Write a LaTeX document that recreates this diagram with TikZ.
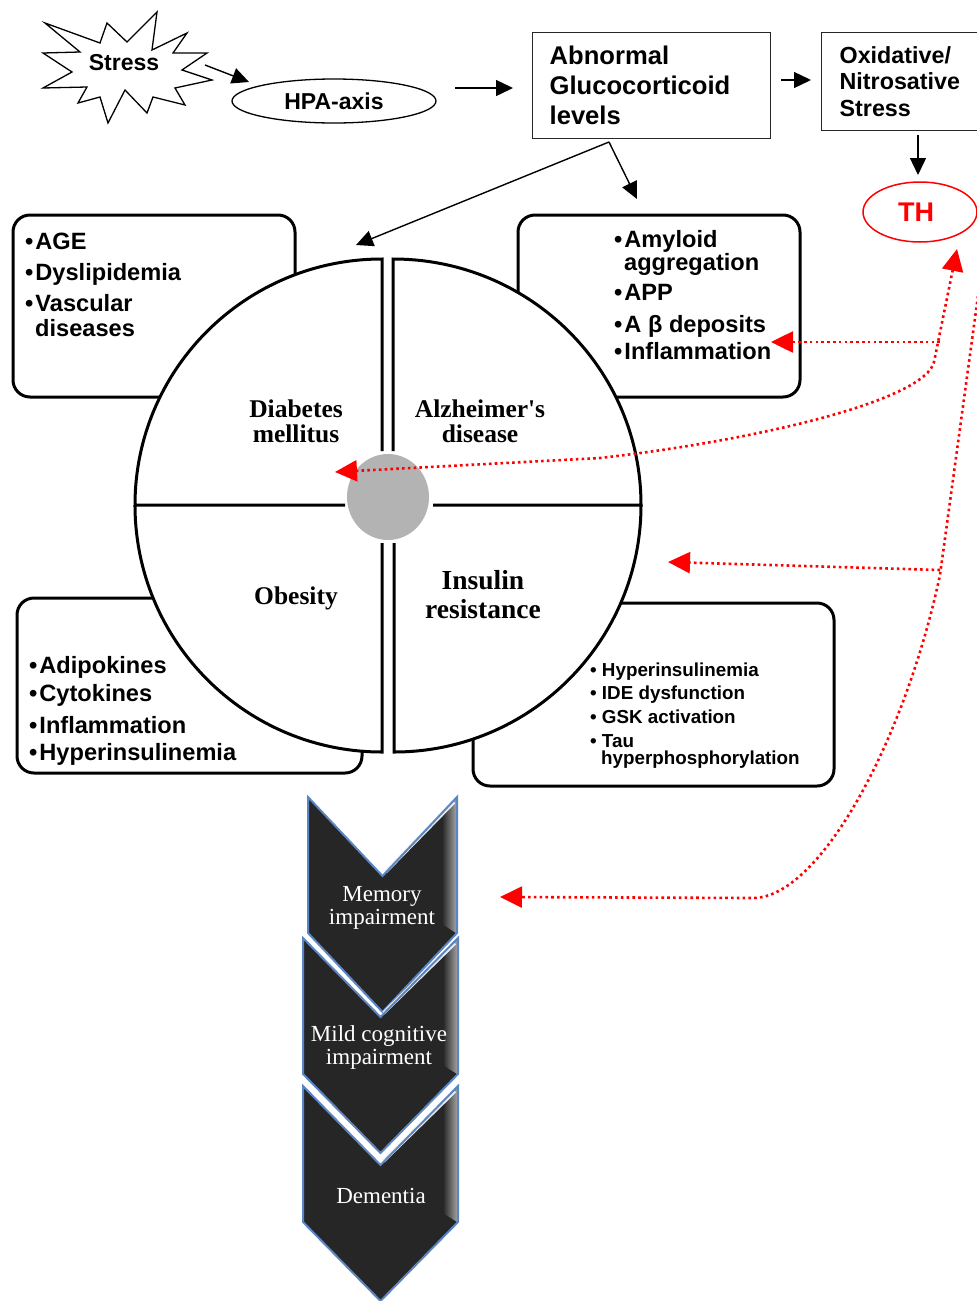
\documentclass[tikz,border=0pt]{standalone}
\usepackage{fontspec}
\setmainfont{Liberation Sans}
\newfontfamily\serifbf{Liberation Serif}
\usetikzlibrary{arrows.meta,shapes.geometric}
\definecolor{chevfill}{HTML}{262626}
\definecolor{chevblue}{HTML}{5B86C3}
\definecolor{qgray}{HTML}{B3B3B3}
\newcommand{\bu}{•\hspace{2pt}}
\newcommand{\chevshape}[3]{%
  \fill[chevfill] (#1,#3) -- ({(#1+#2)/2},#3+79) -- (#2,#3) -- (#2,#3+136) -- ({(#1+#2)/2},#3+215) -- (#1,#3+136) -- cycle;
  \shade[left color=chevfill, right color=gray!75] (#2-15,#3+17) -- (#2-1,#3+2) -- (#2-1,#3+136) -- (#2-15,#3+127) -- cycle;
  \draw[white!85!gray, line width=3.5pt] ({(#1+#2)/2+3},#3+75) -- (#2-3,#3+5);
  \draw[chevblue, line width=2pt, line join=miter] (#1,#3) -- ({(#1+#2)/2},#3+79) -- (#2,#3) -- (#2,#3+136) -- ({(#1+#2)/2},#3+215) -- (#1,#3+136) -- cycle;
}
\begin{document}
\begin{tikzpicture}[x=1pt,y=-1pt,
  txt/.style={inner sep=0pt, anchor=base west, font=\bfseries\fontsize{23.6}{24}\selectfont},
  smalltxt/.style={inner sep=0pt, anchor=base west, font=\bfseries\fontsize{18.8}{19}\selectfont},
  qlab/.style={inner sep=0pt, anchor=base, font=\serifbf\bfseries\fontsize{25.5}{25.5}\selectfont},
  qlabbig/.style={inner sep=0pt, anchor=base, font=\serifbf\bfseries\fontsize{27.5}{27.5}\selectfont},
  chevtxt/.style={inner sep=0pt, anchor=base, text=white, font=\serifbf\fontsize{23}{23}\selectfont},
  rbox/.style={draw, line width=3pt, rounded corners=17pt},
  qline/.style={line width=3pt},
  blk/.style={line width=1.4pt, -{Triangle[length=17pt,width=16pt]}},
  reddot/.style={draw=red, line width=2.6pt, dash pattern=on 2.6pt off 3.2pt},
  rtip/.style={-{Triangle[length=22pt,width=21pt]}},
  rtips/.style={{Triangle[length=22pt,width=21pt]}-{Triangle[length=22pt,width=21pt]}}
]
\useasboundingbox (0,0) rectangle (977,1301);
\fill[white] (0,0) rectangle (977,1301);

% ---------- rounded boxes (behind circle)
\draw[rbox] (13,215) rectangle (295,397);
\draw[rbox] (518,215) rectangle (800,397);
\draw[rbox] (17,598) rectangle (362,773);
\draw[rbox] (473,603) rectangle (834,786);

% box texts
\node[txt] (tl1) at (25,249) {\bu AGE};
\node[txt] (tl2) at (25,280) {\bu Dyslipidemia};
\node[txt] (tl3) at (25,311) {\bu Vascular};
\node[txt] (tl4) at (35,336) {diseases};

\node[txt] (tr1) at (614,247) {\bu Amyloid};
\node[txt] (tr2) at (624,270) {aggregation};
\node[txt] (tr3) at (614,300) {\bu APP};
\node[txt] (tr4) at (614,332) {\bu A β deposits};
\node[txt] (tr5) at (614,359) {\bu Inflammation};

\node[txt] (bl1) at (29,673) {\bu Adipokines};
\node[txt] (bl2) at (29,701) {\bu Cytokines};
\node[txt] (bl3) at (29,733) {\bu Inflammation};
\node[txt] (bl4) at (29,760) {\bu Hyperinsulinemia};

\node[smalltxt] (br1) at (590,676) {• Hyperinsulinemia};
\node[smalltxt] (br2) at (590,699) {• IDE dysfunction};
\node[smalltxt] (br3) at (590,723) {• GSK activation};
\node[smalltxt] (br4) at (590,747) {• Tau};
\node[smalltxt] (br5) at (601,764) {hyperphosphorylation};

% ---------- circle of quadrants
\fill[white] (388,505) ellipse [x radius=253, y radius=247];
\draw[qline] (382,451) -- (382,259) arc[start angle=270, end angle=180, x radius=247, y radius=246] -- (345,505);
\draw[qline] (393,451) -- (393,259) arc[start angle=270, end angle=360, x radius=248, y radius=246] -- (433,505);
\draw[qline] (382,543) -- (382,752) arc[start angle=90, end angle=180, x radius=247, y radius=247];
\draw[qline] (394,543) -- (394,752) arc[start angle=90, end angle=0, x radius=247, y radius=247];
\fill[qgray] (388,497) ellipse [x radius=41, y radius=43];

\node[qlab] (dm1) at (296,417) {Diabetes};
\node[qlab] (dm2) at (296,442) {mellitus};
\node[qlab] (ad1) at (480,417) {Alzheimer's};
\node[qlab] (ad2) at (480,442) {disease};
\node[qlab] (ob) at (296,604) {Obesity};
\node[qlabbig] (ir1) at (483,589) {Insulin};
\node[qlabbig] (ir2) at (483,618) {resistance};

% ---------- top flow
\draw[line width=1.3pt, line join=miter, fill=white]
  (45,23) -- (100,43) -- (107,23) -- (127,42) -- (157,12) -- (152,50) -- (187,33) -- (173,53)
  -- (207,53) -- (182,70) -- (212,80) -- (175,88) -- (185,105) -- (153,97) -- (147,113)
  -- (125,90) -- (108,123) -- (100,97) -- (78,103) -- (87,87) -- (43,88) -- (72,72)
  -- (43,53) -- (80,52) -- cycle;
\node[inner sep=0pt, anchor=base, font=\bfseries\fontsize{23}{23}\selectfont] (stress) at (124,70) {Stress};
\coordinate (stressout) at (205,65);
\coordinate (hpain) at (249,82);

\node[draw, ellipse, line width=1.3pt, minimum width=204pt, minimum height=44pt, inner sep=0pt,
      font=\bfseries\fontsize{23}{23}\selectfont] (hpa) at (334,101) {HPA-axis};

\node[draw=black!85, line width=1.3pt, anchor=north west, minimum width=238pt, minimum height=106pt,
      inner xsep=17pt, inner ysep=0pt, text width=204pt, align=left,
      font=\bfseries\fontsize{25.6}{30}\selectfont] (abn) at (532,32) {Abnormal\\Glucocorticoid\\levels};

\node[draw=black!85, line width=1.3pt, anchor=north west, minimum width=175pt, minimum height=98pt,
      inner xsep=18pt, inner ysep=0pt, text width=139pt, align=left,
      font=\bfseries\fontsize{23.3}{26.5}\selectfont] (oxi) at (821,32) {Oxidative/\\Nitrosative\\Stress};

\node[draw=red, ellipse, line width=1.5pt, minimum width=114pt, minimum height=60pt, inner sep=0pt,
      text=red, font=\bfseries\fontsize{27}{27}\selectfont] (th) at (920,212) {\hspace*{-8pt}TH};

\coordinate (h1s) at (455,88);
\coordinate (h1e) at (513,88);
\coordinate (o1s) at (781,80);
\coordinate (o1e) at (811,80);
\coordinate (t1s) at (918,135);
\coordinate (t1e) at (918,175);
\coordinate (gsplit) at (609,142);
\coordinate (dmtop) at (356,245);
\coordinate (adtop) at (637,199);

\draw[blk] (stressout) -- (hpain);
\draw[blk] (h1s) -- (h1e);
\draw[blk] (o1s) -- (o1e);
\draw[blk] (t1s) -- (t1e);
\draw[blk] (gsplit) -- (dmtop);
\draw[blk] (gsplit) -- (adtop);

% ---------- chevrons
\chevshape{308}{457}{797}
\chevshape{303}{458}{938}
\chevshape{303}{458}{1086}
\node[chevtxt] (c1a) at (382,901) {Memory};
\node[chevtxt] (c1b) at (382,924) {impairment};
\node[chevtxt] (c2a) at (379,1041) {Mild cognitive};
\node[chevtxt] (c2b) at (379,1064) {impairment};
\node[chevtxt] (c3) at (381,1203) {Dementia};

% ---------- red dotted arrows
\coordinate (thtip) at (957,249);
\coordinate (rbend) at (934,362);
\coordinate (rmid) at (600,458);
\coordinate (dmtip) at (335,472);
\draw[reddot, rtips] (thtip) -- (rbend) .. controls (925,400) and (760,440) .. (rmid) -- (dmtip);

\coordinate (r2s) at (940,342);
\coordinate (amytip) at (771,342);
\draw[reddot, rtip] (r2s) -- (amytip);

\coordinate (r3s) at (978,296);
\coordinate (r3k) at (940,575);
\coordinate (r3b) at (753,898);
\coordinate (memtip) at (500,897);
\draw[reddot, rtip] (r3s) -- (r3k) .. controls (905,740) and (820,898) .. (r3b) -- (memtip);

\coordinate (r4s) at (940,570);
\coordinate (irtip) at (668,562);
\draw[reddot, rtip] (r4s) -- (irtip);
\end{tikzpicture}
\end{document}
